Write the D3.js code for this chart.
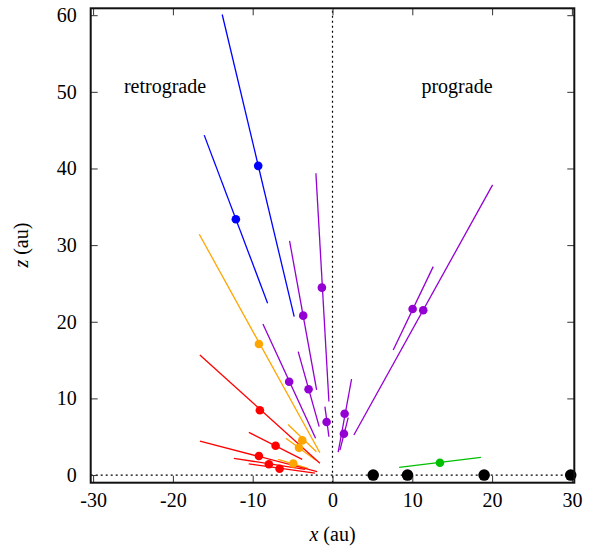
<!DOCTYPE html>
<html>
<head>
<meta charset="utf-8">
<script src="https://cdn.jsdelivr.net/npm/d3@7"></script>
<style>
  body { margin: 0; background: #fff; }
</style>
</head>
<body>
<svg id="chart" width="592" height="547"></svg>
<script>
(function(){

  // DATA ////////////////////////////////////////////////////////////////////
  // each object: [x, z, x1, z1, x2, z2]  (dot, then segment ends)

  var blueObjects = [
    [-9.31, 40.34, -13.82, 60.09, -4.80, 20.67],
    [-12.11, 33.38, -16.08, 44.35, -8.13, 22.41]
  ];

  var orangeObjects = [
    [-9.22, 17.10, -16.70, 31.42, -1.58, 2.91],
    [-3.79, 4.52, -5.57, 6.60, -2.02, 3.05],
    [-4.20, 3.55, -5.85, 4.80, -2.08, 1.92],
    [-4.92, 1.51, -6.82, 2.05, -3.06, 0.88]
  ];

  var redObjects = [
    [-9.10, 8.45, -16.62, 15.67, -1.58, 1.53],
    [-7.13, 3.83, -10.48, 5.57, -3.80, 2.05],
    [-9.22, 2.48, -16.62, 4.44, -1.92, 0.43],
    [-7.97, 1.40, -12.36, 2.18, -3.46, 0.74],
    [-6.63, 0.82, -10.50, 1.45, -2.20, 0.25]
  ];

  var purpleObjects = [
    [-1.33, 24.45, -2.08, 39.38, -0.45, 9.60],
    [-3.67, 20.80, -5.38, 30.55, -1.99, 11.10],
    [-5.43, 12.18, -8.72, 19.71, -2.12, 4.79],
    [-3.00, 11.19, -4.30, 16.10, -1.67, 6.31],
    [-0.74, 6.92, -0.95, 8.92, -0.45, 5.00],
    [1.52, 8.00, 2.39, 12.53, 0.71, 3.00],
    [1.43, 5.39, 1.97, 7.48, 0.93, 3.26],
    [11.37, 21.50, 20.06, 37.86, 2.68, 5.22],
    [10.04, 21.67, 12.62, 27.19, 7.61, 16.32]
  ];

  var greenObjects = [
    [13.46, 1.61, 8.35, 1.00, 18.60, 2.31]
  ];

  var planetX = [5.1, 9.4, 19.0, 29.85];

  var xTicks = [-30, -20, -10, 0, 10, 20, 30];
  var zTicks = [0, 10, 20, 30, 40, 50, 60];

  var groups = [
    { data: blueObjects,   color: "#0000ff" },
    { data: orangeObjects, color: "#ffa500" },
    { data: redObjects,    color: "#ff0000" },
    { data: purpleObjects, color: "#9400d3" },
    { data: greenObjects,  color: "#00c000" }
  ];

  var serif = "'Liberation Serif', 'Times New Roman', Tinos, 'Nimbus Roman', 'DejaVu Serif', serif";
  var fontSize = "20px";

  // LAYOUT //////////////////////////////////////////////////////////////////

  var left = 90.7, right = 574.3, top = 8.3, bottom = 482.7;

  var x = d3.scaleLinear().domain([-30.3, 30.3]).range([left, right]);
  var z = d3.scaleLinear().domain([-1, 60.9]).range([bottom, top]);

  var svg = d3.select("#chart");

  // guide lines at x=0 and z=0
  svg.append("line")
    .attr("x1", x(0)).attr("x2", x(0))
    .attr("y1", bottom).attr("y2", top)
    .attr("stroke", "#000").attr("stroke-width", 1.2)
    .attr("stroke-dasharray", "2,3");

  svg.append("line")
    .attr("x1", left).attr("x2", right)
    .attr("y1", z(0)).attr("y2", z(0))
    .attr("stroke", "#000").attr("stroke-width", 1.2)
    .attr("stroke-dasharray", "2,3");

  // AXES ////////////////////////////////////////////////////////////////////

  function styleAxis(g){
    g.select(".domain").remove();
    g.attr("font-family", null);
    g.selectAll(".tick line").attr("stroke", "#333").attr("stroke-width", 1);
    g.selectAll(".tick text").style("font-size", fontSize).style("font-family", serif);
  }

  var fmt = function(d){ return String(d); };

  svg.append("g")
    .attr("transform", "translate(0," + bottom + ")")
    .call(d3.axisBottom(x).tickValues(xTicks).tickFormat(fmt).tickSizeInner(-7).tickSizeOuter(0).tickPadding(10))
    .call(styleAxis);

  svg.append("g")
    .attr("transform", "translate(0," + top + ")")
    .call(d3.axisTop(x).tickValues(xTicks).tickSizeInner(-7).tickSizeOuter(0).tickFormat(""))
    .call(styleAxis);

  svg.append("g")
    .attr("transform", "translate(" + left + ",0)")
    .call(d3.axisLeft(z).tickValues(zTicks).tickFormat(fmt).tickSizeInner(-7).tickSizeOuter(0).tickPadding(14))
    .call(styleAxis);

  svg.append("g")
    .attr("transform", "translate(" + right + ",0)")
    .call(d3.axisRight(z).tickValues(zTicks).tickSizeInner(-7).tickSizeOuter(0).tickFormat(""))
    .call(styleAxis);

  // MARKS ///////////////////////////////////////////////////////////////////

  groups.forEach(function(grp){
    svg.append("g").selectAll("line")
      .data(grp.data)
      .enter()
      .append("line")
      .attr("x1", function(d){ return x(d[2]); })
      .attr("y1", function(d){ return z(d[3]); })
      .attr("x2", function(d){ return x(d[4]); })
      .attr("y2", function(d){ return z(d[5]); })
      .attr("stroke", grp.color)
      .attr("stroke-width", 1.3);
  });

  groups.forEach(function(grp){
    svg.append("g").selectAll("circle")
      .data(grp.data)
      .enter()
      .append("circle")
      .attr("cx", function(d){ return x(d[0]); })
      .attr("cy", function(d){ return z(d[1]); })
      .attr("r", 4.3)
      .attr("fill", grp.color);
  });

  svg.append("g").selectAll("circle")
    .data(planetX)
    .enter()
    .append("circle")
    .attr("cx", function(d){ return x(d); })
    .attr("cy", z(0))
    .attr("r", 5.8)
    .attr("fill", "#000");

  // border
  svg.append("rect")
    .attr("x", left).attr("y", top)
    .attr("width", right - left).attr("height", bottom - top)
    .attr("fill", "none").attr("stroke", "#111").attr("stroke-width", 2);

  // LABELS //////////////////////////////////////////////////////////////////

  function label(xp, yp, txt){
    return svg.append("text")
      .attr("x", xp).attr("y", yp)
      .attr("text-anchor", "middle")
      .style("font-family", serif)
      .style("font-size", fontSize)
      .text(txt);
  }

  label(165, 93, "retrograde");
  label(457, 93, "prograde");

  var xl = label(x(0), 541, null);
  xl.append("tspan").style("font-style", "italic").text("x");
  xl.append("tspan").text(" (au)");

  var zl = label(0, 0, null)
    .attr("transform", "translate(28," + z(30) + ") rotate(-90)");
  zl.append("tspan").style("font-style", "italic").text("z");
  zl.append("tspan").text(" (au)");

})();
</script>
</body>
</html>
